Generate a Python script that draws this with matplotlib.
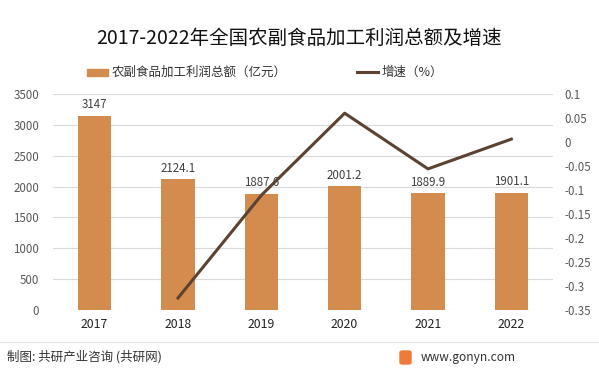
import matplotlib.pyplot as plt
import matplotlib.patches as mpatches
import numpy as np

plt.rcParams['font.family'] = ['Noto Sans CJK SC', 'DejaVu Sans']

years = ['2017', '2018', '2019', '2020', '2021', '2022']
profit = [3147, 2124.1, 1887.6, 2001.2, 1889.9, 1901.1]
growth_years = ['2018', '2019', '2020', '2021', '2022']
growth = [-0.325, -0.111, 0.060, -0.056, 0.006]

bar_color = '#D38B4E'
line_color = '#5C4331'
font_size = 8.3

fig = plt.figure(figsize=(5.99, 3.73), dpi=100)
ax = fig.add_axes([53 / 599, 1 - 310 / 373, 500 / 599, 216 / 373])

x = np.arange(len(years))
ax.bar(x, profit, width=0.4, color=bar_color, zorder=2)
for xi, v in zip(x, profit):
    ax.text(xi, v + 70, f'{v:g}', ha='center', va='bottom', fontsize=font_size, color='#404040')

ax.set_xlim(-0.5, len(years) - 0.5)
ax.set_ylim(0, 3500)
ax.set_yticks(np.arange(0, 3501, 500))
ax.set_xticks(x)
ax.set_xticklabels(years, fontsize=font_size + 0.5, color='#222222')
ax.tick_params(axis='y', labelsize=font_size, colors='#595959', length=0, pad=10)
ax.tick_params(axis='x', length=0, pad=6)
ax.grid(axis='y', color='#D9D9D9', linewidth=0.8, zorder=0)
for s in ax.spines.values():
    s.set_visible(False)

ax2 = ax.twinx()
gx = [years.index(y) for y in growth_years]
ax2.plot(gx, growth, color=line_color, linewidth=2.2, zorder=3)
ax2.set_ylim(-0.35, 0.1)
rticks = np.round(np.arange(-0.35, 0.101, 0.05), 2)
ax2.set_yticks(rticks)
ax2.set_yticklabels(['0' if v == 0 else f'{v:g}' for v in rticks])
ax2.tick_params(axis='y', labelsize=font_size, colors='#595959', length=0, pad=8)
for s in ax2.spines.values():
    s.set_visible(False)

fig.text(0.5, 1 - 38 / 373, '2017-2022年全国农副食品加工利润总额及增速', ha='center', va='center',
         fontsize=14, color='#111111')

# legend
fig.patches.append(mpatches.Rectangle((87 / 599, 1 - 76 / 373), 21 / 599, 7 / 373,
                                      color=bar_color, transform=fig.transFigure))
fig.text(112 / 599, 1 - 72 / 373, '农副食品加工利润总额（亿元）', va='center', fontsize=9, color='#333333')
fig.lines.append(plt.Line2D([357 / 599, 378 / 599], [1 - 72 / 373] * 2, color=line_color,
                            linewidth=2.2, transform=fig.transFigure))
fig.text(382 / 599, 1 - 72 / 373, '增速（%）', va='center', fontsize=9, color='#333333')

# footer
fig.lines.append(plt.Line2D([0, 1], [1 - 342 / 373] * 2, color='#E3E3E3', linewidth=0.8,
                            transform=fig.transFigure))
fig.text(7 / 599, 1 - 357 / 373, '制图: 共研产业咨询 (共研网)', va='center', fontsize=9, color='#333333')
fig.patches.append(mpatches.FancyBboxPatch((400 / 599, 1 - 364 / 373), 11 / 599, 13 / 373,
                                           boxstyle='round,pad=0,rounding_size=0.004',
                                           color='#F07A3A', transform=fig.transFigure))
fig.text(516 / 599, 1 - 357 / 373, 'www.gonyn.com', ha='right', va='center', fontsize=8.6, color='#333333')

fig.savefig('out.png', dpi=100)
